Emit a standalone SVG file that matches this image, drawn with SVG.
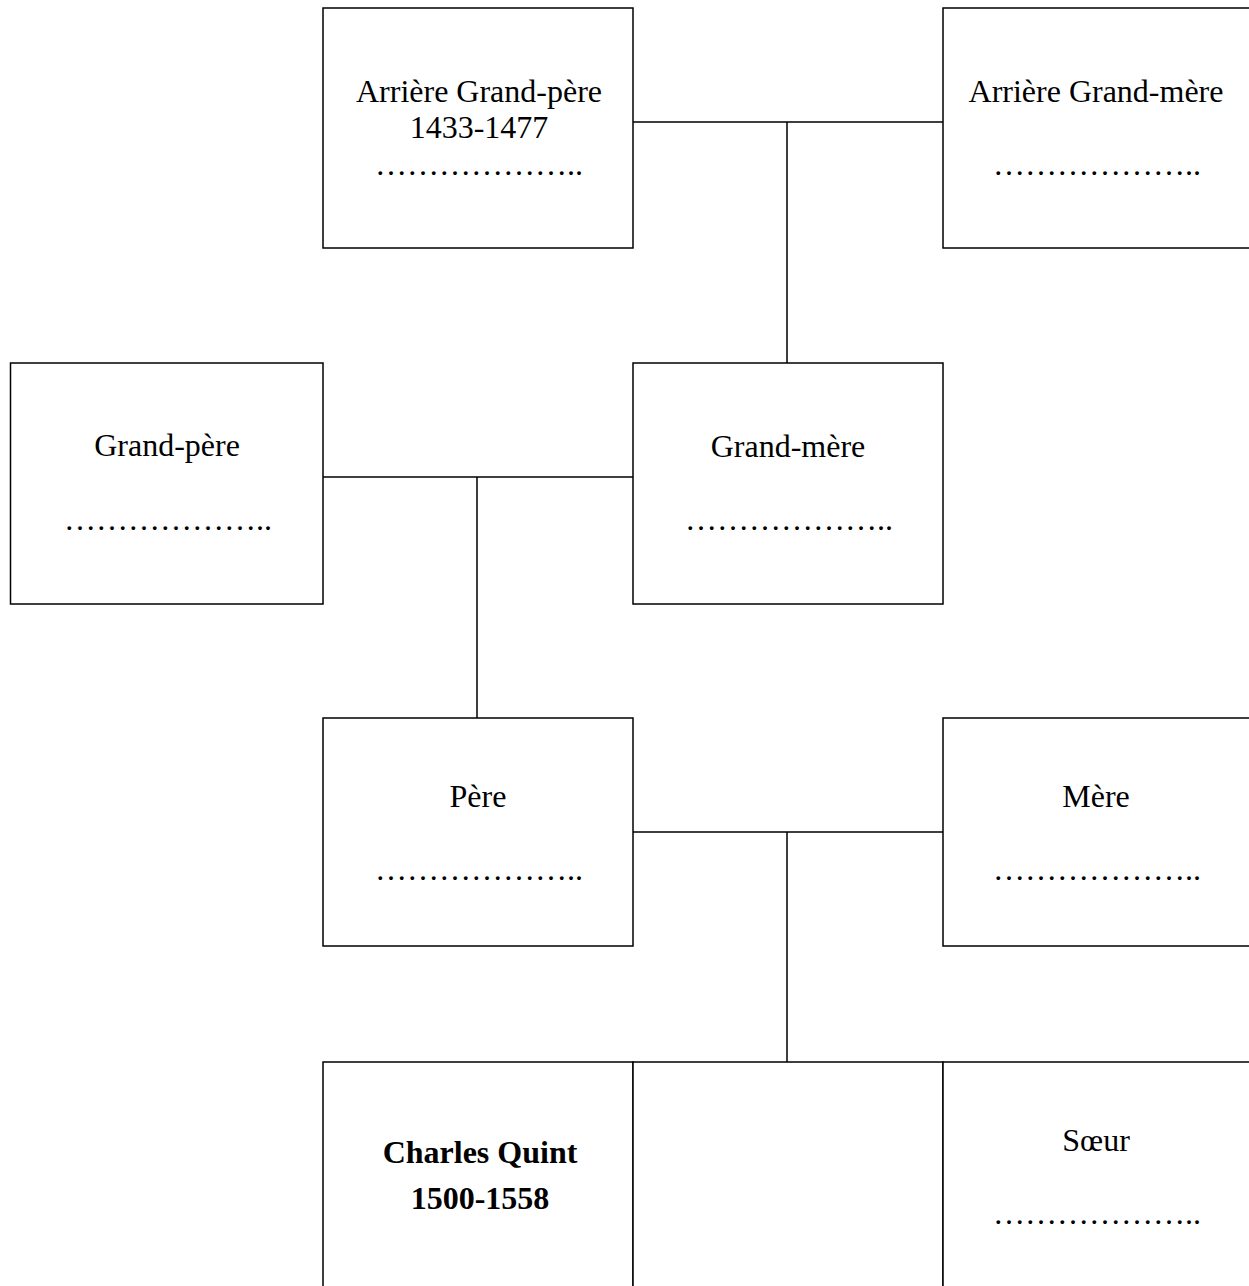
<svg xmlns="http://www.w3.org/2000/svg" width="1249" height="1286" viewBox="0 0 1249 1286">
<style>
.box{fill:#fff;stroke:#000;stroke-width:1.5}
.ln{fill:none;stroke:#000;stroke-width:1.5}
text{font-family:"Liberation Serif","Times New Roman",serif;font-size:32px;fill:#000;text-anchor:middle}
.b{font-weight:bold}
</style>
<rect width="1249" height="1286" fill="#fff"/>
<g id="connectors">
<path class="ln" d="M633 122H943M787 122V363"/>
<path class="ln" d="M323 477H633M477 477V718"/>
<path class="ln" d="M633 832H943M787 832V1062"/>
</g>
<g id="arriere-grand-pere">
<rect class="box" x="323" y="8" width="310" height="240"/>
<text x="479" y="102">Arrière Grand-père</text>
<text x="479" y="138">1433-1477</text>
<text x="479" y="175">………………..</text>
</g>
<g id="arriere-grand-mere">
<rect class="box" x="943" y="8" width="320" height="240"/>
<text x="1096" y="102">Arrière Grand-mère</text>
<text x="1097" y="175">………………..</text>
</g>
<g id="grand-pere">
<rect class="box" x="10.5" y="363" width="312.5" height="241"/>
<text x="167" y="456">Grand-père</text>
<text x="168" y="530">………………..</text>
</g>
<g id="grand-mere">
<rect class="box" x="633" y="363" width="310" height="241"/>
<text x="788" y="457">Grand-mère</text>
<text x="789" y="530">………………..</text>
</g>
<g id="pere">
<rect class="box" x="323" y="718" width="310" height="228"/>
<text x="478" y="807">Père</text>
<text x="479" y="880">………………..</text>
</g>
<g id="mere">
<rect class="box" x="943" y="718" width="320" height="228"/>
<text x="1096" y="807">Mère</text>
<text x="1097" y="880">………………..</text>
</g>
<g id="charles-quint">
<rect class="box" x="323" y="1062" width="310" height="240"/>
<text class="b" x="480" y="1163">Charles Quint</text>
<text class="b" x="480" y="1209">1500-1558</text>
</g>
<g id="frere">
<rect class="box" x="633" y="1062" width="310" height="240"/>
</g>
<g id="soeur">
<rect class="box" x="943" y="1062" width="320" height="240"/>
<text x="1096" y="1151">Sœur</text>
<text x="1097" y="1224">………………..</text>
</g>
</svg>
